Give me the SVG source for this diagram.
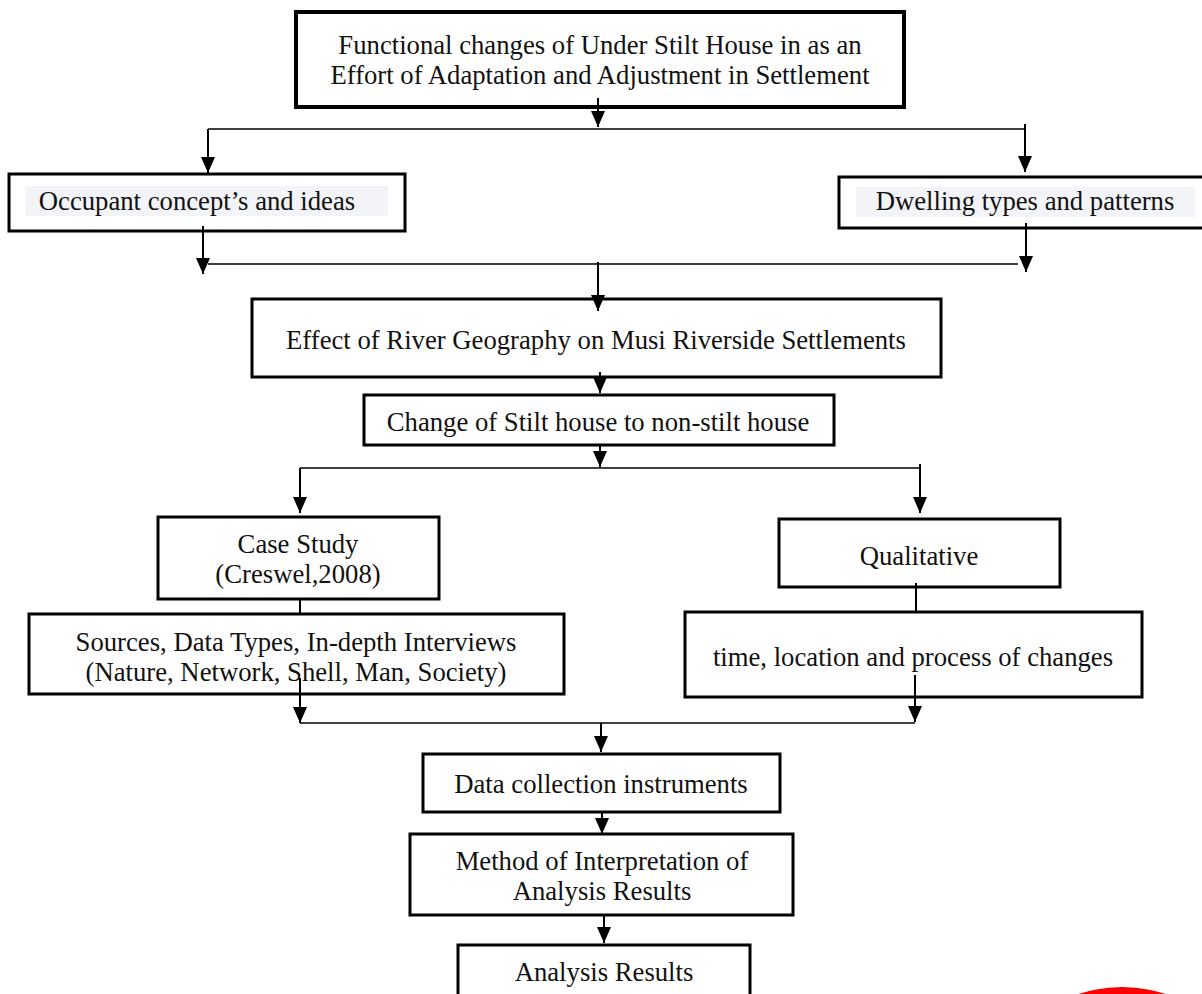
<svg xmlns="http://www.w3.org/2000/svg" width="1202" height="994" viewBox="0 0 1202 994">
<defs>
<marker id="ah" markerUnits="userSpaceOnUse" markerWidth="16" markerHeight="16" viewBox="0 0 16 16" refX="16" refY="8" orient="auto">
<path d="M0,1 L16,8 L0,15 Z" fill="#000"/>
</marker>
<style>
.box{fill:#fff;stroke:#000;stroke-width:3}
.thick{stroke-width:4}
.hl{fill:#f3f4f7;stroke:none}
.t{font-family:"Liberation Serif","Times New Roman",serif;font-size:26.7px;fill:#111;text-anchor:middle}
.c{stroke:#000;stroke-width:2;fill:none}
.h{stroke:#000;stroke-width:1.4;fill:none}
.a{marker-end:url(#ah)}
</style>
</defs>
<rect width="1202" height="994" fill="#fff"/>

<g id="node-top">
<rect class="box thick" x="296" y="12" width="608" height="95"/>
<text class="t" x="600" y="54">Functional changes of Under Stilt House in as an</text>
<text class="t" x="600" y="84">Effort of Adaptation and Adjustment in Settlement</text>
</g>

<g id="node-occupant">
<rect class="box" x="9" y="174" width="396" height="57"/>
<rect class="hl" x="25" y="186" width="363" height="30"/>
<text class="t" x="197" y="210">Occupant concept’s and ideas</text>
</g>

<g id="node-dwelling">
<rect class="box" x="839" y="177" width="380" height="51"/>
<rect class="hl" x="856" y="187" width="339" height="30"/>
<text class="t" x="1025" y="210">Dwelling types and patterns</text>
</g>

<g id="node-effect">
<rect class="box" x="252" y="299" width="689" height="78"/>
<text class="t" x="596" y="349">Effect of River Geography on Musi Riverside Settlements</text>
</g>

<g id="node-change">
<rect class="box" x="364" y="395" width="470" height="50"/>
<text class="t" x="598" y="431">Change of Stilt house to non-stilt house</text>
</g>

<g id="node-case">
<rect class="box" x="158" y="517" width="281" height="82"/>
<text class="t" x="298" y="553">Case Study</text>
<text class="t" x="298" y="583">(Creswel,2008)</text>
</g>

<g id="node-qualitative">
<rect class="box" x="779" y="519" width="281" height="68"/>
<text class="t" x="919" y="565">Qualitative</text>
</g>

<g id="node-sources">
<rect class="box" x="29" y="614" width="535" height="80"/>
<text class="t" x="296" y="651">Sources, Data Types, In-depth Interviews</text>
<text class="t" x="296" y="681">(Nature, Network, Shell, Man, Society)</text>
</g>

<g id="node-time">
<rect class="box" x="685" y="612" width="457" height="85"/>
<text class="t" x="913" y="666">time, location and process of changes</text>
</g>

<g id="node-data">
<rect class="box" x="423" y="754" width="357" height="58"/>
<text class="t" x="601" y="793">Data collection instruments</text>
</g>

<g id="node-method">
<rect class="box" x="410" y="834" width="383" height="81"/>
<text class="t" x="602" y="870">Method of Interpretation of</text>
<text class="t" x="602" y="900">Analysis Results</text>
</g>

<g id="node-analysis">
<rect class="box" x="458" y="945" width="292" height="70"/>
<text class="t" x="604" y="981">Analysis Results</text>
</g>

<g id="connectors">
<line class="c a" x1="598" y1="98" x2="598" y2="127"/>
<line class="h" x1="208" y1="129" x2="1025" y2="129"/>
<line class="c a" x1="208" y1="129" x2="208" y2="173"/>
<line class="c a" x1="1025" y1="124" x2="1025" y2="172"/>
<line class="c a" x1="203" y1="226" x2="203" y2="274"/>
<line class="c a" x1="1026" y1="223" x2="1026" y2="272"/>
<line class="h" x1="208" y1="264" x2="1018" y2="264"/>
<line class="c a" x1="598" y1="262" x2="598" y2="311"/>
<line class="c a" x1="600" y1="372" x2="600" y2="393"/>
<line class="c a" x1="600" y1="445" x2="600" y2="467"/>
<line class="h" x1="300" y1="468" x2="920" y2="468"/>
<line class="c a" x1="300" y1="468" x2="300" y2="513"/>
<line class="c a" x1="920" y1="464" x2="920" y2="513"/>
<line class="c" x1="300" y1="599" x2="300" y2="614"/>
<line class="c" x1="916" y1="583" x2="916" y2="612"/>
<line class="c a" x1="300" y1="678" x2="300" y2="723"/>
<line class="c a" x1="915" y1="675" x2="915" y2="722"/>
<line class="h" x1="300" y1="723" x2="915" y2="723"/>
<line class="c a" x1="601" y1="723" x2="601" y2="752"/>
<line class="c a" x1="602" y1="812" x2="602" y2="834"/>
<line class="c a" x1="604" y1="915" x2="604" y2="943"/>
</g>

<circle cx="1122" cy="1127" r="140" fill="#ff0000"/>
</svg>
